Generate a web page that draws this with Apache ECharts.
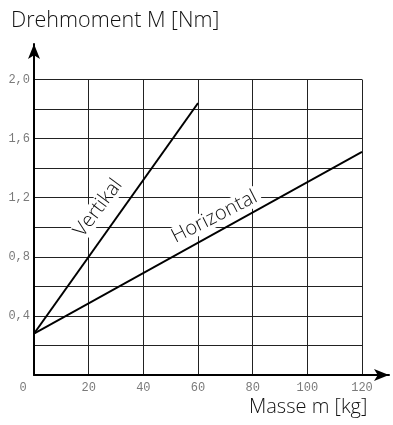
<!DOCTYPE html>
<html><head><meta charset="utf-8">
<script src="https://cdn.jsdelivr.net/npm/echarts@6/dist/echarts.min.js"></script>
<style>html,body{margin:0;padding:0;background:#fff}#c{width:393px;height:425px}</style>
</head><body><div id="c"></div>
<script>
// Data
const vertikal = [[0, 0.28], [60, 1.84]];
const horizontal = [[0, 0.28], [120, 1.51]];
const labelVertikal = [23.5, 1.13];
const labelHorizontal = [66, 1.07];
const yTitle = 'Drehmoment M [Nm]';
const xTitle = 'Masse m [kg]';

const chart = echarts.init(document.getElementById('c'), null, {renderer: 'canvas'});
const tickFont = {fontFamily: 'Liberation Mono', fontSize: 12, color: '#7a7a7a'};
const thin = '"Open Sans", "Liberation Sans", sans-serif';
const option = {
  animation: false,
  grid: [
    {left: 34, right: 31, top: 79.5, bottom: 50},
    {left: 34, right: 4, top: 44, bottom: 50}
  ],
  graphic: [
    {type: 'text', left: 11, top: 10, style: {text: yTitle, font: '300 21.5px ' + thin, fill: '#111'}},
    {type: 'text', left: 249, top: 397, style: {text: xTitle, font: '300 20px ' + thin, fill: '#111'}}
  ],
  xAxis: [
    {type: 'value', gridIndex: 0, min: 0, max: 120, interval: 20,
     axisLine: {show: false}, axisTick: {show: false},
     splitLine: {show: true, lineStyle: {color: '#222', width: 1}},
     axisLabel: Object.assign({margin: 7, formatter: v => v === 0 ? '{z|0}' : String(v),
       rich: {z: Object.assign({padding: [0, 22, 0, 0]}, tickFont)}}, tickFont)},
    {type: 'value', gridIndex: 1, min: 0, max: 1, show: true,
     axisLine: {show: true, symbol: ['none', 'arrow'], symbolSize: [9, 15], lineStyle: {color: '#000', width: 2}},
     axisTick: {show: false}, axisLabel: {show: false}, splitLine: {show: false}}
  ],
  yAxis: [
    {type: 'value', gridIndex: 0, min: 0, max: 2.0, interval: 0.2,
     axisLine: {show: false}, axisTick: {show: false},
     splitLine: {show: true, lineStyle: {color: '#222', width: 1}},
     axisLabel: Object.assign({margin: 4, formatter: v => {
       const r = Math.round(v * 10);
       if (r === 0 || r % 4 !== 0) return '';
       return (r / 10).toFixed(1).replace('.', ',');
     }}, tickFont)},
    {type: 'value', gridIndex: 1, min: 0, max: 1, show: true,
     axisLine: {show: true, symbol: ['none', 'arrow'], symbolSize: [9, 15], lineStyle: {color: '#000', width: 2}},
     axisTick: {show: false}, axisLabel: {show: false}, splitLine: {show: false}}
  ],
  series: [
    {type: 'line', xAxisIndex: 0, yAxisIndex: 0, data: vertikal, symbol: 'none',
     lineStyle: {color: '#000', width: 1.8}, z: 5,
     markPoint: {symbol: 'rect', symbolSize: 1, itemStyle: {color: 'rgba(0,0,0,0)'},
       data: [{coord: labelVertikal, label: {show: true, position: 'inside', formatter: 'Vertikal', rotate: 53,
         fontFamily: thin, fontWeight: 300, fontSize: 20, color: '#111', backgroundColor: '#fff', padding: [0, 4]}}]}},
    {type: 'line', xAxisIndex: 0, yAxisIndex: 0, data: horizontal, symbol: 'none',
     lineStyle: {color: '#000', width: 1.8}, z: 5,
     markPoint: {symbol: 'rect', symbolSize: 1, itemStyle: {color: 'rgba(0,0,0,0)'},
       data: [{coord: labelHorizontal, label: {show: true, position: 'inside', formatter: 'Horizontal', rotate: 27,
         fontFamily: thin, fontWeight: 300, fontSize: 20, color: '#111', backgroundColor: '#fff', padding: [0, 4]}}]}}
  ]
};
chart.setOption(option);
</script></body></html>
